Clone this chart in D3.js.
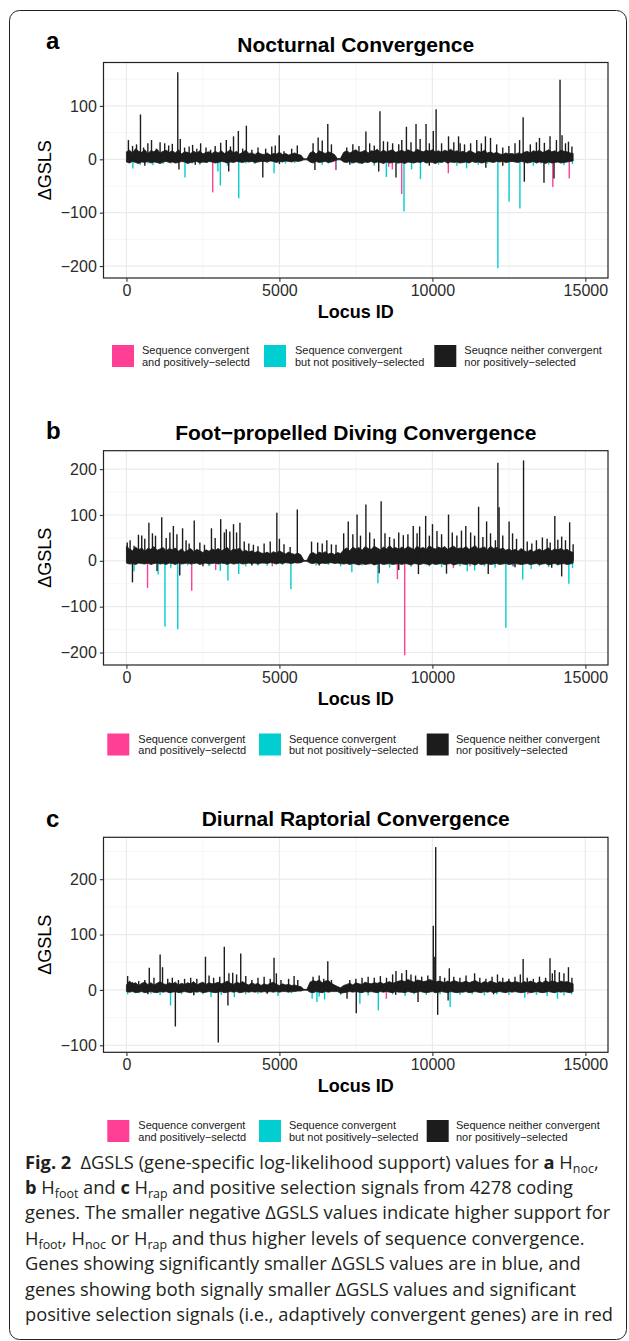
<!DOCTYPE html>
<html>
<head>
<meta charset="utf-8">
<script src="https://cdn.jsdelivr.net/npm/d3@7"></script>
<style>
  body { margin: 0; background: #fff; }
  svg text { font-family: "Liberation Sans", Arial, Helvetica, sans-serif; }
</style>
</head>
<body>
<svg id="fig" width="629" height="1341"></svg>
<script>
// ---- data ----
// locus ID range of the data, used for the x axis
const locusRange = [0, 14990];
// the dense black line is summarised by its upper / lower envelope every 100 loci
const bandLoci = d3.range(0, 14700, 100);

const legendColors = ["#FF3E96", "#00CED1", "#1C1C1C"];
const legendLabelsA = [["Sequence convergent", "and positively\u2212selectd"],
                       ["Sequence convergent", "but not positively\u2212selected"],
                       ["Seuqnce neither convergent", "nor positively\u2212selected"]];
const legendLabelsBC = [["Sequence convergent", "and positively\u2212selectd"],
                        ["Sequence convergent", "but not positively\u2212selected"],
                        ["Sequence neither convergent", "nor positively\u2212selected"]];

// a: nocturnal
const nocTop = [14,17,12,20,15,13,18,11,16,14,19,12,15,17,13,
  16,12,18,10,14,13,11,15,12,16,10,13,14,11,15,
  12,16,11,14,18,12,15,10,13,17,11,12,9,13,10,
  9,12,8,11,10,13,9,11,8,10,12,9,8,
  1,1,
  12,15,10,16,13,11,14,12,9,
  1,2,
  13,16,12,15,18,13,14,17,12,16,15,19,13,17,14,16,18,13,15,
  17,14,18,15,13,19,16,14,17,15,18,14,16,13,17,15,19,14,16,13,
  15,12,16,14,11,15,13,17,12,14,11,13,10,9,12,10,11,9,12,10,
  13,15,12,16,14,17,13,15,18,14,16,13,17,15,14,12,11];
const nocLow = [-5,-7,-4,-6,-8,-5,-6,-4,-7,-5,-6,-8,-5,-4,-6,
  -5,-7,-6,-4,-5,-8,-6,-5,-4,-7,-5,-6,-4,-5,-7,
  -6,-4,-5,-7,-5,-6,-4,-5,-6,-4,-5,-4,-6,-5,-4,
  -4,-5,-3,-4,-6,-4,-5,-3,-4,-5,-3,-4,-3,
  -1,-1,
  -5,-7,-4,-6,-5,-4,-6,-5,-3,
  -1,-1,
  -5,-6,-4,-7,-5,-6,-8,-5,-6,-4,-7,-5,-6,-8,-5,-7,-6,-5,-7,
  -6,-8,-5,-6,-7,-5,-6,-4,-7,-5,-6,-8,-5,-6,-4,-7,-5,-6,-5,-7,
  -6,-5,-7,-4,-6,-5,-7,-6,-4,-5,-6,-4,-5,-4,-6,-5,-4,-5,-6,-4,
  -5,-7,-6,-4,-7,-5,-6,-8,-5,-7,-6,-5,-7,-6,-5,-4,-3];
const nocBlack = [[65,36],[200,25],[330,28],[459,84],[560,22],[700,30],[820,36],[980,20],[1100,32],[1250,30],[1380,26],[1500,29],[1678,163],[1760,38],[1900,22],[2050,24],[2163,27],[2300,20],[2425,30],[2600,22],[2750,18],[2900,25],[3080,31],[3264,36],[3400,24],[3500,43],[3658,53],[3800,20],[3920,63],[4100,18],[4300,22],[4550,20],[4750,24],[4864,26],[4995,45],[5150,15],[5400,20],[5585,26],[6100,30],[6266,41],[6400,35],[6581,66],[6700,28],[7200,22],[7400,28],[7600,25],[7827,52],[7950,30],[8100,26],[8286,90],[8400,34],[8535,33],[8700,30],[8900,28],[9000,36],[9151,61],[9300,32],[9465,66],[9600,38],[9793,66],[9900,30],[10029,53],[10121,94],[10300,30],[10527,43],[10700,32],[10855,43],[10907,30],[11050,28],[11250,30],[11450,36],[11600,30],[11733,43],[11900,40],[12100,28],[12300,22],[12500,25],[12700,30],[12850,36],[12966,79],[13200,28],[13400,32],[13500,40],[13660,31],[13844,43],[14054,36],[14172,149],[14238,45],[14350,30],[14447,33],[14560,24],
  [600,-12],[1717,-19],[2250,-10],[3343,-23],[4457,-34],[5000,-9],[6160,-20],[7300,-10],[8246,-23],[8810,-34],[9900,-12],[11747,-16],[12300,-12],[13005,-42],[13647,-44],[13975,-36]];
const nocCyan = [[210,-17],[450,-10],[700,-8],[865,-11],[1050,-7],[1200,-9],[1450,-8],[1914,-34],[2150,-8],[2400,-10],[2650,-7],[2989,-23],[3068,-49],[3300,-12],[3671,-73],[3900,-8],[4200,-9],[4600,-7],[4824,-26],[5200,-8],[5500,-7],[6400,-10],[6600,-8],[6857,-20],[7350,-8],[7600,-9],[7850,-7],[8100,-12],[8495,-33],[8850,-9],[9072,-98],[9321,-19],[9610,-37],[9850,-8],[10200,-10],[10500,-8],[10800,-12],[11117,-17],[11500,-10],[11800,-8],[12140,-204],[12507,-79],[12861,-92],[13300,-12],[13550,-8],[13800,-10],[14300,-11],[14578,-9]];
const nocPink = [[2819,-62],[6840,-20],[8570,-14],[8690,-19],[8996,-65],[10520,-26],[13936,-52],[14473,-36]];

// b: foot-propelled diving
const footTop = [32,26,22,30,24,28,21,27,25,31,23,26,29,22,27,
  24,28,21,26,19,23,27,20,25,22,18,24,21,26,23,
  27,22,25,29,21,26,24,28,20,23,19,22,18,21,17,
  16,19,15,20,17,22,18,15,19,16,14,17,13,
  1,1,
  15,18,14,19,16,20,15,17,14,
  18,16,
  24,28,22,30,26,29,23,31,27,25,32,28,24,30,26,33,27,29,25,
  30,26,31,28,24,32,27,29,25,33,28,26,30,27,31,25,29,32,26,28,
  27,31,25,29,33,26,28,30,24,32,27,29,25,28,23,26,22,25,21,27,
  22,19,24,20,23,26,21,25,28,22,26,24,27,23,25,21,18];
const footLow = [-5,-7,-6,-8,-5,-6,-7,-5,-8,-6,-5,-7,-6,-8,-5,
  -6,-8,-5,-7,-6,-5,-7,-6,-5,-8,-6,-5,-7,-6,-5,
  -7,-5,-6,-8,-5,-7,-6,-5,-7,-6,-5,-6,-5,-7,-5,
  -5,-6,-4,-5,-7,-5,-6,-4,-5,-6,-4,-5,-4,
  -1,-1,
  -5,-6,-4,-7,-5,-6,-5,-4,-6,
  -5,-6,
  -7,-6,-8,-6,-7,-9,-6,-8,-7,-6,-9,-7,-6,-8,-7,-6,-8,-7,-6,
  -8,-6,-7,-9,-6,-7,-8,-6,-7,-9,-6,-8,-7,-6,-8,-7,-6,-9,-7,-6,
  -7,-8,-6,-7,-9,-6,-8,-7,-6,-8,-7,-6,-8,-7,-6,-8,-7,-6,-7,-8,
  -7,-6,-8,-7,-6,-8,-7,-6,-9,-7,-6,-8,-7,-6,-8,-7,-5];
const footBlack = [[26,40],[120,45],[250,33],[393,57],[500,55],[600,48],[734,83],[850,60],[950,55],[1154,95],[1300,50],[1420,62],[1534,76],[1650,58],[1835,71],[1950,45],[2050,38],[2216,88],[2400,40],[2550,35],[2779,71],[2900,50],[3081,91],[3200,62],[3264,69],[3380,64],[3500,80],[3600,62],[3710,83],[3850,42],[4000,38],[4150,35],[4300,32],[4500,38],[4700,42],[4916,105],[5000,48],[5150,36],[5350,30],[5585,112],[6050,42],[6250,40],[6400,38],[6550,45],[6700,36],[6850,35],[7100,60],[7250,86],[7400,58],[7538,101],[7650,55],[7827,123],[7950,62],[8100,48],[8325,130],[8450,60],[8600,52],[8750,48],[8900,62],[9050,56],[9200,58],[9374,76],[9500,60],[9583,75],[9780,98],[9900,55],[10003,80],[10150,65],[10300,58],[10527,101],[10650,62],[10800,55],[10950,66],[11091,76],[11250,62],[11380,55],[11510,118],[11650,52],[11772,86],[11900,60],[12060,45],[12140,214],[12180,117],[12300,55],[12507,86],[12620,60],[12750,48],[12979,219],[13100,42],[13250,38],[13400,45],[13595,51],[13750,48],[13850,40],[14001,98],[14100,46],[14225,53],[14350,45],[14486,84],[14600,36],
  [197,-47],[1000,-22],[1743,-32],[2500,-12],[4100,-10],[6300,-10],[8259,-27],[8900,-20],[9544,-29],[10461,-28],[11825,-29],[12700,-14],[13900,-15],[14225,-34]];
const footCyan = [[249,-23],[1036,-30],[1259,-143],[1450,-15],[1678,-149],[2000,-10],[2700,-12],[3068,-22],[3317,-43],[3671,-29],[3900,-12],[4300,-10],[4600,-11],[5100,-9],[5375,-62],[6200,-10],[6600,-9],[7000,-12],[7368,-25],[7700,-10],[8220,-49],[8600,-15],[9300,-13],[9900,-12],[10300,-14],[10900,-12],[11140,-23],[11379,-21],[11700,-12],[12050,-15],[12402,-146],[12620,-12],[12953,-41],[13228,-18],[13500,-12],[13800,-14],[14100,-11],[14460,-50],[14580,-16]];
const footPink = [[690,-59],[2134,-65],[2918,-20],[4768,-12],[8856,-40],[9095,-206],[10687,-16],[11230,-12],[12660,-12]];

// c: diurnal raptorial
const rapTop = [9,16,11,13,8,12,14,10,13,9,12,15,11,10,13,
  11,14,9,12,10,13,11,15,9,12,14,10,13,11,12,
  14,11,13,16,12,10,14,12,15,11,9,13,10,12,8,
  11,9,12,14,10,8,11,9,10,8,9,7,6,
  1,1,
  14,17,15,18,13,16,17,12,9,
  6,4,
  8,10,12,9,13,11,10,14,12,11,13,12,14,11,13,15,12,14,16,
  17,15,19,16,14,18,17,15,16,19,17,14,16,15,13,16,14,17,15,13,
  14,16,13,15,17,14,12,15,13,16,14,12,15,13,14,16,13,15,14,12,
  15,13,16,14,12,15,13,17,14,16,15,13,16,14,15,13,11];
const rapLow = [-3,-4,-3,-5,-4,-3,-5,-4,-3,-4,-5,-3,-4,-3,-5,
  -4,-3,-5,-4,-3,-4,-5,-3,-4,-3,-5,-4,-3,-4,-5,
  -4,-3,-5,-4,-3,-4,-3,-5,-4,-3,-4,-3,-4,-3,-4,
  -3,-4,-3,-4,-3,-4,-3,-3,-4,-3,-3,-2,-2,
  -0.5,-0.5,
  -4,-5,-3,-4,-5,-3,-4,-3,-3,
  -3,-6,
  -5,-4,-3,-4,-3,-4,-5,-3,-4,-3,-4,-5,-3,-4,-3,-4,-5,-3,-4,
  -4,-5,-3,-4,-5,-4,-3,-4,-5,-4,-3,-5,-4,-3,-4,-5,-3,-4,-5,-4,
  -4,-3,-5,-4,-3,-4,-5,-3,-4,-3,-5,-4,-3,-4,-5,-3,-4,-3,-4,-5,
  -4,-3,-5,-4,-3,-4,-5,-4,-3,-4,-5,-3,-4,-3,-4,-5,-3];
const rapBlack = [[39,25],[200,14],[400,16],[600,18],[747,40],[900,22],[1101,64],[1180,41],[1350,20],[1500,22],[1700,18],[1900,20],[2100,22],[2300,20],[2583,60],[2700,26],[2850,22],[3050,24],[3199,78],[3350,30],[3474,31],[3600,28],[3736,66],[3900,25],[4100,18],[4300,22],[4500,24],[4700,20],[4824,58],[4900,30],[5050,18],[5300,20],[5480,25],[5600,18],[6100,24],[6300,26],[6450,20],[6581,52],[6700,18],[7300,18],[7500,20],[7700,22],[7900,24],[8100,22],[8300,25],[8500,22],[8700,28],[8810,34],[9000,30],[9151,36],[9300,28],[9450,26],[9650,24],[9850,26],[10029,116],[10060,60],[10108,258],[10250,25],[10400,22],[10553,39],[10700,24],[10900,22],[11100,26],[11379,30],[11550,22],[11750,20],[11950,24],[12127,28],[12300,22],[12500,20],[12700,24],[12874,28],[12966,56],[13100,22],[13300,20],[13500,24],[13700,22],[13844,57],[13920,30],[14001,36],[14150,32],[14300,30],[14447,41],[14560,22],
  [700,-8],[1599,-66],[2200,-9],[3002,-95],[3317,-28],[4600,-7],[7210,-16],[7512,-42],[8800,-9],[9531,-22],[10173,-45],[10514,-19],[12000,-8]];
const rapCyan = [[40,-8],[400,-6],[800,-7],[1100,-9],[1442,-28],[1800,-8],[2200,-10],[2500,-8],[2766,-13],[3100,-9],[3526,-13],[3900,-8],[4300,-7],[4956,-11],[5400,-6],[6070,-16],[6227,-22],[6300,-12],[6476,-17],[7000,-9],[7630,-25],[7900,-10],[8233,-37],[8700,-8],[9111,-11],[9400,-8],[9800,-9],[10250,-8],[10580,-31],[10900,-9],[11300,-8],[11700,-10],[12100,-8],[12500,-9],[13018,-14],[13400,-9],[13750,-11],[14088,-16],[14300,-10],[14550,-8]];
const rapPink = [[891,-5],[8495,-16],[13120,-8]];

const xTicks = [0, 5000, 10000, 15000];
const xMinor = [2500, 7500, 12500];

// caption: each line is a list of [text, style]; style b = bold, s = subscript
const caption = [
  [["Fig. 2", "b"], ["\u2002\u0394GSLS (gene-specific log-likelihood support) values for "], ["a", "b"], [" H"], ["noc", "s"], [","]],
  [["b", "b"], [" H"], ["foot", "s"], [" and "], ["c", "b"], [" H"], ["rap", "s"], [" and positive selection signals from 4278 coding"]],
  [["genes. The smaller negative \u0394GSLS values indicate higher support for"]],
  [["H"], ["foot", "s"], [", H"], ["noc", "s"], [" or H"], ["rap", "s"], [" and thus higher levels of sequence convergence."]],
  [["Genes showing significantly smaller \u0394GSLS values are in blue, and"]],
  [["genes showing both signally smaller \u0394GSLS values and significant"]],
  [["positive selection signals (i.e., adaptively convergent genes) are in red"]]
];

// ---- layout ----
const plotLeft = 103.5, plotRight = 608;
const panels = [
  { tag: "a", title: "Nocturnal Convergence", top: nocTop, low: nocLow, black: nocBlack, cyan: nocCyan, pink: nocPink,
    y0: 62.5, y1: 278, tagY: 49, yTicks: [-200, -100, 0, 100], yMinor: [-150, -50, 50, 150],
    legendY: 345, legendSq: [112, 264, 434.3], legendTx: [142, 295, 464.3], labels: legendLabelsA },
  { tag: "b", title: "Foot\u2212propelled Diving Convergence", top: footTop, low: footLow, black: footBlack, cyan: footCyan, pink: footPink,
    y0: 450.7, y1: 665, tagY: 438.5, yTicks: [-200, -100, 0, 100, 200], yMinor: [-150, -50, 50, 150],
    legendY: 733.5, legendSq: [107.3, 259, 426.7], legendTx: [138.3, 289, 456], labels: legendLabelsBC },
  { tag: "c", title: "Diurnal Raptorial Convergence", top: rapTop, low: rapLow, black: rapBlack, cyan: rapCyan, pink: rapPink,
    y0: 837.3, y1: 1052.3, tagY: 827, yTicks: [-100, 0, 100, 200], yMinor: [-50, 50, 150, 250],
    legendY: 1120, legendSq: [107.3, 259, 426.7], legendTx: [138.3, 289, 456], labels: legendLabelsBC }
];

const svg = d3.select("#fig");

// outer rounded frame
svg.append("rect")
  .attr("x", 9.5).attr("y", 10.5).attr("width", 617).attr("height", 1329)
  .attr("rx", 10).attr("fill", "none").attr("stroke", "#231f20").attr("stroke-width", 1);

function expand([a, b]) { const p = (b - a) * 0.05; return [a - p, b + p]; }

const x = d3.scaleLinear().domain(expand(locusRange)).range([plotLeft, plotRight]);

panels.forEach(p => {
  const band = bandLoci.map((l, i) => [l, p.top[i], p.low[i]]);
  const allVals = [].concat(p.top, p.low, p.black.map(d => d[1]), p.cyan.map(d => d[1]), p.pink.map(d => d[1]));
  const y = d3.scaleLinear().domain(expand(d3.extent(allVals))).range([p.y1, p.y0]);
  const g = svg.append("g");

  // grid
  g.selectAll(".ymin").data(p.yMinor.filter(v => y(v) > p.y0 && y(v) < p.y1)).join("line")
    .attr("x1", plotLeft).attr("x2", plotRight).attr("y1", d => y(d)).attr("y2", d => y(d))
    .attr("stroke", "#f2f2f2").attr("stroke-width", 0.7);
  g.selectAll(".xmin").data(xMinor).join("line")
    .attr("x1", d => x(d)).attr("x2", d => x(d)).attr("y1", p.y0).attr("y2", p.y1)
    .attr("stroke", "#f2f2f2").attr("stroke-width", 0.7);
  g.selectAll(".ymaj").data(p.yTicks).join("line")
    .attr("x1", plotLeft).attr("x2", plotRight).attr("y1", d => y(d)).attr("y2", d => y(d))
    .attr("stroke", "#ebebeb").attr("stroke-width", 1.2);
  g.selectAll(".xmaj").data(xTicks).join("line")
    .attr("x1", d => x(d)).attr("x2", d => x(d)).attr("y1", p.y0).attr("y2", p.y1)
    .attr("stroke", "#ebebeb").attr("stroke-width", 1.2);

  // coloured segments first, the black line sits on top
  const seg = (data, color, w) => g.append("g").selectAll("line").data(data).join("line")
    .attr("x1", d => x(d[0])).attr("x2", d => x(d[0]))
    .attr("y1", y(0)).attr("y2", d => y(d[1]))
    .attr("stroke", color).attr("stroke-width", w);
  seg(p.cyan, legendColors[1], 1.4);
  seg(p.pink, legendColors[0], 1.4);

  const area = d3.area().x(d => x(d[0])).y0(d => y(d[2])).y1(d => y(d[1]));
  g.append("path").datum(band).attr("d", area)
    .attr("fill", legendColors[2]).attr("stroke", legendColors[2]).attr("stroke-width", 0.8)
    .attr("stroke-linejoin", "miter");
  seg(p.black, legendColors[2], 1.4);

  // border
  g.append("rect").attr("x", plotLeft).attr("y", p.y0)
    .attr("width", plotRight - plotLeft).attr("height", p.y1 - p.y0)
    .attr("fill", "none").attr("stroke", "#222").attr("stroke-width", 1.2);

  // axes
  const ax = g.append("g").attr("transform", `translate(0,${p.y1})`)
    .call(d3.axisBottom(x).tickValues(xTicks).tickSize(3.7).tickPadding(3).tickFormat(d3.format("d")));
  const ay = g.append("g").attr("transform", `translate(${plotLeft},0)`)
    .call(d3.axisLeft(y).tickValues(p.yTicks).tickSize(3.7).tickPadding(3)
      .tickFormat(d => d < 0 ? "\u2212" + Math.abs(d) : d));
  [ax, ay].forEach(a => {
    a.select(".domain").remove();
    a.selectAll(".tick line").attr("stroke", "#333").attr("stroke-width", 1.1);
    a.selectAll(".tick text").attr("fill", "#2b2b2b").attr("font-size", 16)
      .attr("font-family", "Liberation Sans, Arial, sans-serif");
  });

  g.append("text").attr("x", (plotLeft + plotRight) / 2).attr("y", p.y1 + 40)
    .attr("text-anchor", "middle").attr("font-size", 18).attr("font-weight", "bold").text("Locus ID");
  g.append("text").attr("transform", `translate(51,${(p.y0 + p.y1) / 2}) rotate(-90)`)
    .attr("text-anchor", "middle").attr("font-size", 18).text("\u0394GSLS");
  g.append("text").attr("x", (plotLeft + plotRight) / 2).attr("y", p.y0 - 11)
    .attr("text-anchor", "middle").attr("font-size", 21).attr("font-weight", "bold").text(p.title);
  g.append("text").attr("x", 46).attr("y", p.tagY)
    .attr("font-size", 24).attr("font-weight", "bold").text(p.tag);

  // legend
  const lg = g.append("g");
  legendColors.forEach((c, i) => {
    lg.append("rect").attr("x", p.legendSq[i]).attr("y", p.legendY)
      .attr("width", 22).attr("height", 22).attr("fill", c);
    const t = lg.append("text").attr("x", p.legendTx[i]).attr("y", p.legendY + 9.3)
      .attr("font-size", 11).attr("fill", "#1a1a1a");
    t.append("tspan").attr("x", p.legendTx[i]).text(p.labels[i][0]);
    t.append("tspan").attr("x", p.legendTx[i]).attr("dy", 11.4).text(p.labels[i][1]);
  });
});

// caption
const capX = 25, capY0 = 1168.5, capStep = 25.4;
const capG = svg.append("g").attr("fill", "#231f20");
function writeLine(el, parts, size) {
  el.selectAll("*").remove();
  el.attr("font-size", size);
  let down = false;
  parts.forEach(([txt, st]) => {
    const ts = el.append("tspan").text(txt).style("font-family", "Open Sans, sans-serif");
    if (st === "b") ts.attr("font-weight", "bold");
    if (st === "s") { ts.attr("font-size", size * 0.68).attr("dy", size * 0.22); down = true; }
    else if (down) { ts.attr("dy", -size * 0.22); down = false; }
  });
}
// fit the font size so the widest plain line spans the frame like the reference
const probe = capG.append("text").attr("x", capX).attr("y", -100);
writeLine(probe, caption[2], 100);
const capSize = 100 * 586 / probe.node().getComputedTextLength();
probe.remove();
caption.forEach((parts, i) => {
  const t = capG.append("text").attr("x", capX).attr("y", capY0 + i * capStep);
  writeLine(t, parts, capSize);
});
</script>
</body>
</html>
